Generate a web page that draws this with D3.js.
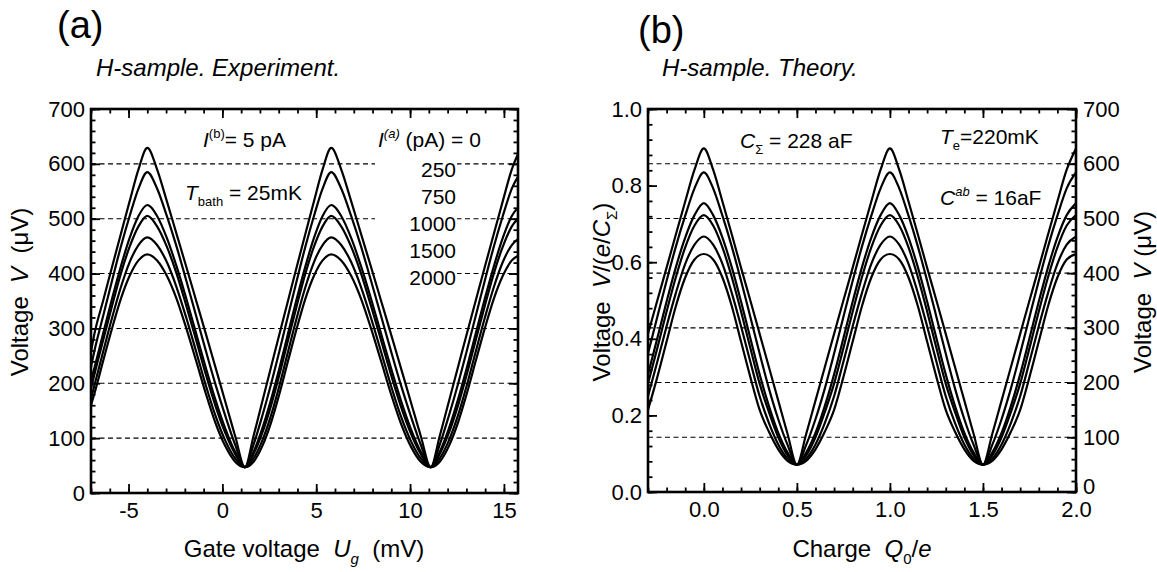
<!DOCTYPE html>
<html>
<head>
<meta charset="utf-8">
<script src="https://cdn.jsdelivr.net/npm/d3@7"></script>
<style>
body { margin: 0; background: #fff; }
svg text { font-family: "Liberation Sans", Arial, Helvetica, sans-serif; fill: #000; }
</style>
</head>
<body>
<svg id="chart" width="1157" height="572"></svg>
<script>
// I(a) values of the six curves, pA
var currents = ["0", "250", "750", "1000", "1500", "2000"];

// (a) experiment: gate voltage (mV) and V (uV) per curve
var expGate = [-7.0,-6.82,-6.35,-5.88,-5.41,-4.94,-4.47,-4.0,-3.48,-2.96,-2.44,-1.92,-1.4,-0.88,-0.36,0.16,0.68,1.2,
    1.66,2.12,2.58,3.04,3.5,3.96,4.42,4.88,5.34,5.8,6.33,6.86,7.39,7.92,8.45,8.98,9.51,10.04,10.57,11.1,
    11.58,12.06,12.54,13.02,13.5,13.98,14.46,14.94,15.42,15.9];
var expV0 = [258,290,351,412,472,532,590,629, 590,532,472,412,351,290,228,166,104,47, 104,166,228,290,351,412,472,532,590,629, 590,532,472,412,351,290,228,166,104,47, 104,166,228,290,351,412,472,532,590,629];
var expV250 = [230,259,323,387,449,505,555,585, 555,505,449,387,323,259,197,140,88,47, 88,140,197,259,323,387,449,505,555,585, 555,505,449,387,323,259,197,140,88,47, 88,140,197,259,323,387,449,505,555,585];
var expV750 = [205,228,291,354,413,465,505,525, 505,465,413,354,291,228,169,117,75,47, 75,117,169,228,291,354,413,465,505,525, 505,465,413,354,291,228,169,117,75,47, 75,117,169,228,291,354,413,465,505,525];
var expV1000 = [190,216,279,341,400,449,486,505, 486,449,400,341,279,216,158,109,71,47, 71,109,158,216,279,341,400,449,486,505, 486,449,400,341,279,216,158,109,71,47, 71,109,158,216,279,341,400,449,486,505];
var expV1500 = [172,196,258,319,375,421,452,466, 452,421,375,319,258,196,140,95,63,47, 63,95,140,196,258,319,375,421,452,466, 452,421,375,319,258,196,140,95,63,47, 63,95,140,196,258,319,375,421,452,466];
var expV2000 = [160,181,241,300,354,396,424,435, 424,396,354,300,241,181,127,85,57,47, 57,85,127,181,241,300,354,396,424,435, 424,396,354,300,241,181,127,85,57,47, 57,85,127,181,241,300,354,396,424,435];

// (b) theory: charge Q0/e and V (uV, right axis)
var theoQ = [-0.3,-0.25,-0.2,-0.15,-0.1,-0.05,0,0.05,0.1,0.15,0.2,0.25,0.3,0.35,0.4,0.45,0.5,0.55,0.6,0.65,0.7,0.75,0.8,0.85,0.9,0.95,
    1.0,1.05,1.1,1.15,1.2,1.25,1.3,1.35,1.4,1.45,1.5,1.55,1.6,1.65,1.7,1.75,1.8,1.85,1.9,1.95,2.0];
var theoV0 = [289,350,410,471,531,589,628, 589,531,471,410,350,289,228,167,106,50, 106,167,228,289,350,410,471,531,589,628, 589,531,471,410,350,289,228,167,106,50, 106,167,228,289,350,410,471,531,589,628];
var theoV250 = [253,320,386,449,505,555,584, 555,505,449,386,320,253,189,133,86,50, 86,133,189,253,320,386,449,505,555,584, 555,505,449,386,320,253,189,133,86,50, 86,133,189,253,320,386,449,505,555,584];
var theoV750 = [215,281,348,411,465,506,528, 506,465,411,348,281,215,157,108,72,50, 72,108,157,215,281,348,411,465,506,528, 506,465,411,348,281,215,157,108,72,50, 72,108,157,215,281,348,411,465,506,528];
var theoV1000 = [198,263,330,393,447,487,506, 487,447,393,330,263,198,146,100,67,50, 67,100,146,198,263,330,393,447,487,506, 487,447,393,330,263,198,146,100,67,50, 67,100,146,198,263,330,393,447,487,506];
var theoV1500 = [175,238,303,364,417,452,467, 452,417,364,303,238,175,126,87,61,50, 61,87,126,175,238,303,364,417,452,467, 452,417,364,303,238,175,126,87,61,50, 61,87,126,175,238,303,364,417,452,467];
var theoV2000 = [150,210,275,340,392,425,435, 425,392,340,275,210,150,110,78,57,50, 57,78,110,150,210,275,340,392,425,435, 425,392,340,275,210,150,110,78,57,50, 57,78,110,150,210,275,340,392,425,435];

// dashed reference levels, uV
var gridLevels = [100, 200, 300, 400, 500, 600];

var expSeries = [expV0, expV250, expV750, expV1000, expV1500, expV2000];
var theoSeries = [theoV0, theoV250, theoV750, theoV1000, theoV1500, theoV2000];

var svg = d3.select("#chart");

var A = {left: 91, right: 518, top: 109, bottom: 493},
    B = {left: 648, right: 1076, top: 109, bottom: 492};

var xA = d3.scaleLinear().domain([-7, 15.75]).range([A.left, A.right]),
    yA = d3.scaleLinear().domain([0, 700]).range([A.bottom, A.top]);
var xB = d3.scaleLinear().domain([-0.3, 2.0]).range([B.left, B.right]),
    yB = d3.scaleLinear().domain([0, 700]).range([B.bottom, B.top]),
    yBn = d3.scaleLinear().domain([0, 1]).range([B.bottom, B.top]);

var defs = svg.append("defs");
defs.append("clipPath").attr("id", "clipA").append("rect")
    .attr("x", A.left).attr("y", A.top).attr("width", A.right - A.left).attr("height", A.bottom - A.top);
defs.append("clipPath").attr("id", "clipB").append("rect")
    .attr("x", B.left).attr("y", B.top).attr("width", B.right - B.left).attr("height", B.bottom - B.top);

var SP = "\u00a0";

function rich(sel, parts, size) {
    var shift = 0;
    parts.forEach(function(p) {
        var s = p.sub ? size * 0.3 : (p.sup ? -size * 0.42 : 0);
        var t = sel.append("tspan").attr("dy", s - shift).text(p.t);
        shift = s;
        if (p.i) t.style("font-style", "italic");
        if (p.sub || p.sup) t.style("font-size", Math.round(size * 0.62) + "px");
    });
    return sel;
}

function label(x, y, size, parts, anchor, rotate) {
    var t = svg.append("text")
        .attr("font-size", size)
        .attr("text-anchor", anchor || "start");
    if (rotate) {
        t.attr("transform", "translate(" + x + "," + y + ") rotate(-90)");
    } else {
        t.attr("x", x).attr("y", y);
    }
    return rich(t, parts, size);
}

function dashed(P, yScale) {
    svg.append("g").selectAll("line")
        .data(gridLevels)
        .enter().append("line")
            .attr("x1", P.left).attr("x2", P.right)
            .attr("y1", function(d) { return yScale(d); })
            .attr("y2", function(d) { return yScale(d); })
            .attr("stroke", "#000")
            .attr("stroke-width", 1.1)
            .attr("stroke-dasharray", "5,3.5");
}

function curves(xs, series, xScale, yScale, clip) {
    var line = d3.line()
        .x(function(d) { return xScale(d[0]); })
        .y(function(d) { return yScale(d[1]); })
        .curve(d3.curveMonotoneX);
    svg.append("g").attr("clip-path", "url(#" + clip + ")")
        .selectAll("path")
        .data(series)
        .enter().append("path")
            .attr("d", function(s) { return line(s.map(function(v, i) { return [xs[i], v]; })); })
            .attr("fill", "none")
            .attr("stroke", "#000")
            .attr("stroke-width", 2.2)
            .attr("stroke-linejoin", "round");
}

function ticks(axisFn, scale, pos, majors, minors, fmt, pad) {
    var g = svg.append("g").attr("transform", pos);
    g.append("g").call(axisFn(scale).tickValues(minors).tickSizeInner(-4.5).tickSizeOuter(0).tickFormat(""));
    g.append("g").call(axisFn(scale).tickValues(majors).tickSizeInner(-9).tickSizeOuter(0)
        .tickPadding(pad || 6).tickFormat(fmt || ""));
    g.selectAll(".domain").remove();
    g.selectAll(".tick line").attr("stroke-width", 1.8);
    g.selectAll("text").style("font-size", "22px");
    return g;
}

function frame(P) {
    svg.append("rect")
        .attr("x", P.left).attr("y", P.top)
        .attr("width", P.right - P.left).attr("height", P.bottom - P.top)
        .attr("fill", "none").attr("stroke", "#000").attr("stroke-width", 2.6);
}

var plain = function(d) { return String(d); };

// ---------- panel (a) ----------
dashed(A, yA);
// label block hides the dashed lines behind it
svg.append("rect").attr("x", 375).attr("y", 152).attr("width", 82).attr("height", 138).attr("fill", "#fff");
curves(expGate, expSeries, xA, yA, "clipA");
frame(A);
ticks(d3.axisBottom, xA, "translate(0," + A.bottom + ")", [-5, 0, 5, 10, 15], d3.range(-7, 16, 1), plain, 9);
ticks(d3.axisTop, xA, "translate(0," + A.top + ")", [-5, 0, 5, 10, 15], d3.range(-7, 16, 1));
ticks(d3.axisLeft, yA, "translate(" + A.left + ",0)", d3.range(0, 701, 100), d3.range(0, 701, 20), plain, 6);
ticks(d3.axisRight, yA, "translate(" + A.right + ",0)", d3.range(0, 701, 100), d3.range(0, 701, 20));

// ---------- panel (b) ----------
dashed(B, yB);
curves(theoQ, theoSeries, xB, yB, "clipB");
frame(B);
var qMinor = d3.range(-3, 21).map(function(i) { return i / 10; });
ticks(d3.axisBottom, xB, "translate(0," + B.bottom + ")", [0, 0.5, 1, 1.5, 2], qMinor, d3.format(".1f"), 9);
ticks(d3.axisTop, xB, "translate(0," + B.top + ")", [0, 0.5, 1, 1.5, 2], qMinor);
ticks(d3.axisLeft, yBn, "translate(" + B.left + ",0)", [0, 0.2, 0.4, 0.6, 0.8, 1.0],
    d3.range(0, 26).map(function(i) { return i * 0.04; }), d3.format(".1f"), 6);
var rightB = ticks(d3.axisRight, yB, "translate(" + B.right + ",0)", d3.range(0, 701, 100), d3.range(0, 701, 20), plain, 7);
// the "0" sits just above the "2.0" of the x axis
rightB.selectAll("text").filter(function(d) { return d === 0; }).attr("dy", "0.05em");

// ---------- texts ----------
label(57, 38, 38, [{t: "(a)"}]);
label(638, 43, 38, [{t: "(b)"}]);
label(96, 76, 24, [{t: "H-sample. Experiment.", i: true}]);
label(662, 76, 24, [{t: "H-sample. Theory.", i: true}]);

label(304, 557, 24, [{t: "Gate voltage" + SP + SP}, {t: "U", i: true}, {t: "g", i: true, sub: true}, {t: SP + SP + "(mV)"}], "middle");
label(28, 292, 24, [{t: "Voltage" + SP + SP}, {t: "V", i: true}, {t: SP + SP + "(\u03bcV)"}], "middle", true);
label(862, 557, 24, [{t: "Charge" + SP + SP}, {t: "Q", i: true}, {t: "0", sub: true}, {t: "/"}, {t: "e", i: true}], "middle");
label(610, 292, 24, [{t: "Voltage" + SP + SP}, {t: "V", i: true}, {t: "/("}, {t: "e", i: true}, {t: "/"}, {t: "C", i: true},
    {t: "\u03a3", sub: true}, {t: ")"}], "middle", true);
label(1151, 292, 24, [{t: "Voltage" + SP + SP}, {t: "V", i: true}, {t: SP + "(\u03bcV)"}], "middle", true);

// annotations (a)
label(203, 147, 21, [{t: "I", i: true}, {t: "(b)", sup: true}, {t: "= 5 pA"}]);
label(185, 200, 21, [{t: "T", i: true}, {t: "bath", sub: true}, {t: " = 25mK"}]);
label(378, 147, 21, [{t: "I", i: true}, {t: "(a)", i: true, sup: true}, {t: " (pA) = 0"}]);
var rowY = [177, 204, 231, 258, 285];
currents.slice(1).forEach(function(c, i) {
    label(456, rowY[i], 21, [{t: c}], "end");
});

// annotations (b)
label(740, 148, 21, [{t: "C", i: true}, {t: "\u03a3", sub: true}, {t: " = 228 aF"}]);
label(940, 144, 21, [{t: "T", i: true}, {t: "e", sub: true}, {t: "=220mK"}]);
label(940, 205, 21, [{t: "C", i: true}, {t: "ab", i: true, sup: true}, {t: " = 16aF"}]);
</script>
</body>
</html>
